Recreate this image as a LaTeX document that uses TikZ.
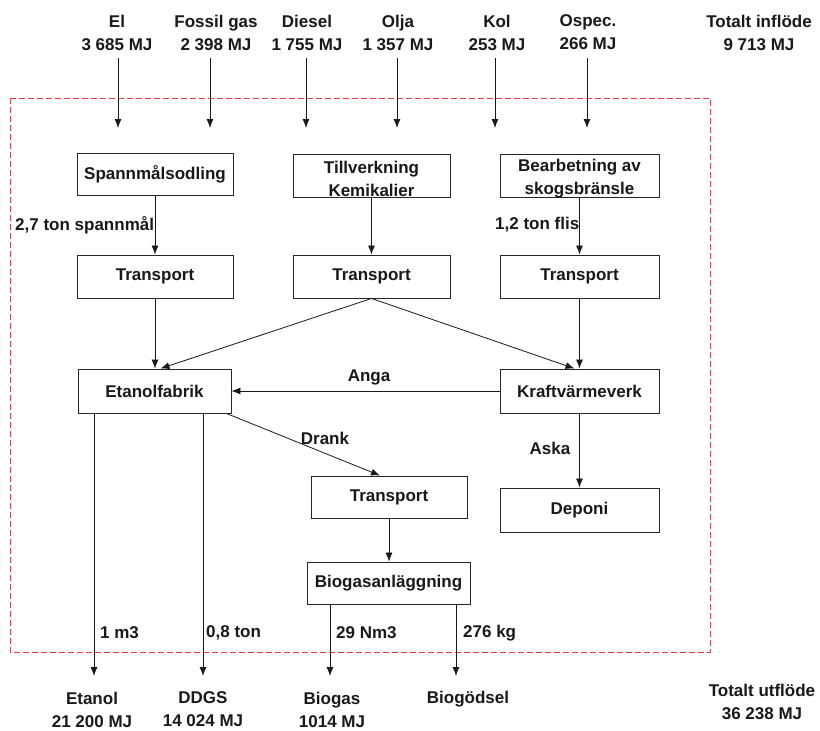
\documentclass[tikz,border=0pt]{standalone}
\usepackage{fontspec}
\setmainfont{Liberation Sans}
\usetikzlibrary{arrows.meta}
\definecolor{sysred}{RGB}{235,55,65}
\tikzset{
  txt/.style={font=\fontsize{17}{23}\selectfont\bfseries, inner sep=0pt, align=center, text=black!90},
  lbl/.style={txt, anchor=west},
  box/.style={draw=black!85, line width=0.9pt, fill=white, inner sep=0pt, font=\fontsize{17}{23}\selectfont\bfseries, text=black!90},
  arr/.style={draw=black!90, line width=0.8pt, -{Latex[length=9pt,width=7pt]}},
  sysline/.style={draw=sysred, line width=1pt, dash pattern=on 6pt off 3pt}
}
\begin{document}
\begin{tikzpicture}[x=1pt,y=-1pt]
\useasboundingbox (0,0) rectangle (820,731);
\fill[white] (0,0) rectangle (820,731);

% system boundary
\draw[sysline] (10,98) rectangle (710,652);

% inflows
\node[txt] (el)  at (117,32.5) {El\\3 685 MJ};
\node[txt] (fg)  at (216,32.5) {Fossil gas\\2 398 MJ};
\node[txt] (die) at (307,32.5) {Diesel\\1 755 MJ};
\node[txt] (olj) at (398,32.5) {Olja\\1 357 MJ};
\node[txt] (kol) at (497,32.5) {Kol\\253 MJ};
\node[txt] (osp) at (588,32.5) {Ospec.\\266 MJ};
\node[txt] (tin) at (759,32.5) {Totalt inflöde\\9 713 MJ};

\foreach \n/\x in {1/118,2/210,3/306,4/397,5/495,6/587}{
  \coordinate (s\n) at (\x,58);
  \coordinate (e\n) at (\x,128);
  \draw[arr] (s\n) -- (e\n);
}

% boxes
\node[box, minimum width=156pt, minimum height=42pt] (spann) at (155,174) {Spannmålsodling};
\node[box, minimum width=157pt, minimum height=43pt] (tillv) at (371.5,175.5) {};
\node[txt] (tillvT) at (371.5,178.5) {Tillverkning\\Kemikalier};
\node[box, minimum width=159pt, minimum height=43pt] (bearb) at (579.5,175.5) {};
\node[txt] (bearbT) at (579.5,178.5) {Bearbetning av\\skogsbränsle};

\node[box, minimum width=156pt, minimum height=43pt] (tr1) at (155,276.5) {Transport};
\node[box, minimum width=157pt, minimum height=43pt] (tr2) at (371.5,276.5) {Transport};
\node[box, minimum width=159pt, minimum height=43pt] (tr3) at (579.5,276.5) {Transport};

\node[box, minimum width=153pt, minimum height=44pt] (etan) at (154.5,391) {Etanolfabrik};
\node[box, minimum width=159pt, minimum height=44pt] (kraft) at (579.5,391) {Kraftvärmeverk};

\node[box, minimum width=156pt, minimum height=42pt] (tr4) at (389,497) {Transport};
\node[box, minimum width=163pt, minimum height=42pt] (biog) at (388.5,583) {Biogasanläggning};
\node[box, minimum width=159pt, minimum height=44pt] (depo) at (579.5,510) {Deponi};

% connectors
\draw[arr] (spann.south) -- (tr1.north);
\draw[arr] (tillv.south) -- (tr2.north);
\draw[arr] (bearb.south) -- (tr3.north);
\draw[arr] (tr1.south) -- (tr1.south |- etan.north);
\draw[arr] (tr2.south) -- ([xshift=6pt]etan.north);
\draw[arr] (tr2.south) -- ([xshift=-5pt]kraft.north);
\draw[arr] (tr3.south) -- (kraft.north);
\draw[arr] (kraft.west) -- (etan.east);
\draw[arr] ([xshift=-5pt]etan.south east) -- ([xshift=-9pt]tr4.north);
\draw[arr] (kraft.south) -- (depo.north);
\draw[arr] (tr4.south) -- (tr4.south |- biog.north);

\coordinate (o1) at (94,676);
\coordinate (o2) at (203,676);
\coordinate (o3) at (330,676);
\coordinate (o4) at (456,676);
\draw[arr] (etan.south -| o1) -- (o1);
\draw[arr] (etan.south -| o2) -- (o2);
\draw[arr] (biog.south -| o3) -- (o3);
\draw[arr] (biog.south -| o4) -- (o4);

% flow labels
\node[lbl] (l27) at (15,225) {2,7 ton spannmål};
\node[lbl] (l12) at (495,225) {1,2 ton flis};
\node[txt] (anga) at (369,377) {Anga};
\node[txt] (drank) at (325,438) {Drank};
\node[txt] (aska) at (550,448) {Aska};
\node[lbl] (m3) at (100,633) {1 m3};
\node[lbl] (ton) at (206,633) {0,8 ton};
\node[lbl] (nm3) at (336,633) {29 Nm3};
\node[lbl] (kg) at (463,633) {276 kg};

% outflows
\node[txt] (etanol) at (92,709.5) {Etanol\\21 200 MJ};
\node[txt] (ddgs) at (203,709.5) {DDGS\\14 024 MJ};
\node[txt] (biogas) at (332,709.5) {Biogas\\1014 MJ};
\node[txt] (biogod) at (468,699) {Biogödsel};
\node[txt] (tut) at (762,701.5) {Totalt utflöde\\36 238 MJ};
\end{tikzpicture}
\end{document}
